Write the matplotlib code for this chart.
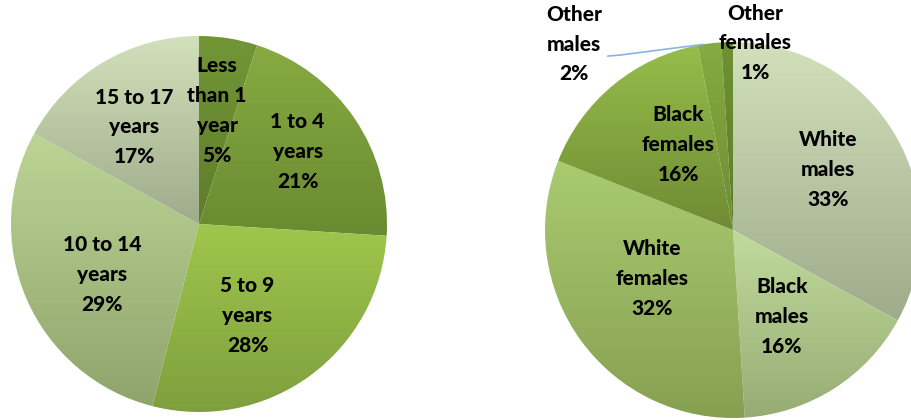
import numpy as np
import matplotlib.pyplot as plt
from matplotlib.colors import to_rgb

# left pie: age groups
age_labels = ["Less\nthan 1\nyear", "1 to 4\nyears", "5 to 9\nyears", "10 to 14\nyears", "15 to 17\nyears"]
age_pct = [5, 21, 28, 29, 17]
age_top = ["#729636", "#87ab41", "#9fc64c", "#bcd596", "#d2e0bb"]
age_bottom = ["#5f7d2b", "#6a8a31", "#7f9f3e", "#8fa46c", "#9fab8b"]

# right pie: sex / race groups
group_labels = ["White\nmales", "Black\nmales", "White\nfemales", "Black\nfemales", "Other\nmales", "Other\nfemales"]
group_pct = [33, 16, 32, 16, 2, 1]
group_top = ["#d2e0bb", "#c0da9c", "#aacb70", "#96bd4a", "#86ab41", "#6f9233"]
group_bottom = ["#9fab8b", "#97ac74", "#86a052", "#6f8b34", "#6d8c33", "#5c7a2a"]

W, H = 912, 420
R = 188

fig = plt.figure(figsize=(W / 100, H / 100), dpi=100)
ax = fig.add_axes([0, 0, 1, 1])


def gradient_pie(center, pcts, tops, bottoms):
    wedges, _ = ax.pie(pcts, radius=R, center=center, startangle=90,
                       counterclock=False, wedgeprops=dict(linewidth=0))
    for w, c0, c1 in zip(wedges, tops, bottoms):
        w.set_facecolor("none")
        ext = w.get_path().get_extents()
        c0, c1 = np.array(to_rgb(c0)), np.array(to_rgb(c1))
        t = np.linspace(0, 1, 200)[:, None, None]
        img = c0 + t * (c1 - c0)
        im = ax.imshow(img, extent=(ext.x0, ext.x1, ext.y0, ext.y1), origin="upper",
                       aspect="auto", interpolation="bilinear", zorder=1)
        im.set_clip_path(w)
    return wedges


def label_pos(center, w, dist, nudge=0):
    ang = np.deg2rad((w.theta1 + w.theta2) / 2 + nudge)
    return center[0] + dist * R * np.cos(ang), center[1] + dist * R * np.sin(ang)


txt = dict(ha="center", va="center", fontsize=15, fontweight="black",
           family="Lato", linespacing=1.68, zorder=5)

left_c = (199, H - 224)
right_c = (733, H - 230)

lw = gradient_pie(left_c, age_pct, age_top, age_bottom)
left_dist = [0.61, 0.65, 0.55, 0.58, 0.62]
left_nudge = [0, 2, -8, 4, 3]
for w, lab, p, d, n in zip(lw, age_labels, age_pct, left_dist, left_nudge):
    x, y = label_pos(left_c, w, d, n)
    ax.text(x, y, f"{lab}\n{p}%", **txt)

rw = gradient_pie(right_c, group_pct, group_top, group_bottom)
right_dist = [0.6, 0.53, 0.5, 0.54]
right_nudge = [2, -3, -5, -7]
for w, lab, p, d, n in zip(rw[:4], group_labels, group_pct, right_dist, right_nudge):
    x, y = label_pos(right_c, w, d, n)
    ax.text(x, y, f"{lab}\n{p}%", **txt)

# small slices labelled outside the pie
om_x, om_y = right_c[0] - 0.846 * R, right_c[1] + 0.989 * R
of_x, of_y = right_c[0] + 0.117 * R, right_c[1] + 0.995 * R
ax.text(om_x, om_y, f"{group_labels[4]}\n{group_pct[4]}%", **txt)
ax.text(of_x, of_y, f"{group_labels[5]}\n{group_pct[5]}%", **txt)
ex, ey = label_pos(right_c, rw[4], 1.0, 2)
ax.plot([om_x + 34, om_x + 46, ex], [om_y - 12, om_y - 11, ey],
        color="#8db3e2", lw=1.2, zorder=4)

ax.set_xlim(0, W)
ax.set_ylim(0, H)
ax.set_aspect("auto")
ax.axis("off")

fig.savefig("out.png", dpi=100, facecolor="white")
